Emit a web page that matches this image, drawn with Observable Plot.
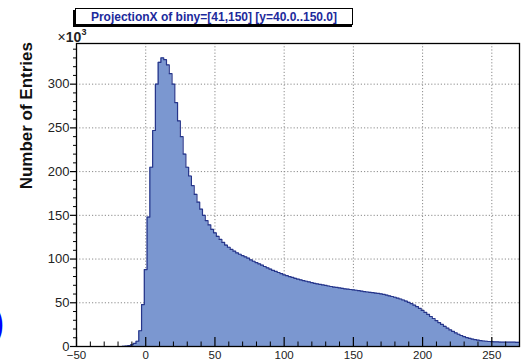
<!DOCTYPE html>
<html>
<head>
<meta charset="utf-8">
<script src="https://cdn.jsdelivr.net/npm/d3@7"></script>
<script src="https://cdn.jsdelivr.net/npm/@observablehq/plot@0.6"></script>
<style>
  html, body { margin: 0; padding: 0; background: #ffffff; }
  #chart svg { display: block; }
</style>
</head>
<body>
<div id="chart"></div>
<script>
// ---- data (counts in units of 10^3 entries, bins of width 2) ----
const titleText = "ProjectionX of biny=[41,150] [y=40.0..150.0]";
const yLabel = "Number of Entries";
const binStart = -51;
const binWidth = 2;
const counts = [
  0,0,0,0,0,0,0,0,0,0,0,0,0,0,0,0,0,
  0.2,0.5,1,2,3.5,6,18,
  48,88,148,205,247,300,325,330,328,322,312,300,279,258,240,220,
  205,195,184,174,165,157,150,144,139,134,130,126,122.5,119,116,113.5,111,109,107,105.5,
  104,102.5,101,99,97.5,96,94.5,93,91.5,90,88.5,87,85.8,84.6,83.3,82,81,80,79,78,
  77,76.2,75.4,74.6,73.8,73,72.3,71.6,71,70.4,69.8,69.2,68.6,68,67.5,67,66.5,66,65.6,65.2,
  64.8,64.3,63.8,63.3,62.8,62.3,61.9,61.5,61.1,60.7,60.2,59.5,58.8,58,57.2,56.3,55.3,54.3,53.2,52,
  50.5,49,47.3,45.5,43.5,41.3,39,36.7,34.3,32,29.7,27.4,25.2,23.1,21,19,17.2,15.5,14,12.6,
  11.3,10.2,9.3,8.5,7.8,7.2,6.7,6.3,6,5.7,5.5,5.3,5.2,5.1,5,5,5,4.9,4.9,4.8,4.8
];
const xDomain = [-50, 270];
const yDomain = [0, 346.5];
const xMajor = [-50, 0, 50, 100, 150, 200, 250];
const xMinor = d3.range(-40, 270, 10).filter(d => d % 50 !== 0);
const yMajor = [0, 50, 100, 150, 200, 250, 300];
const yMinor = d3.range(10, 346, 10).filter(d => d % 50 !== 0);

// ---- build step table ----
const bins = counts.map((v, i) => ({x: binStart + i * binWidth, y: v}));
bins.push({x: binStart + counts.length * binWidth, y: counts[counts.length - 1]});

const W = 528, H = 361;
const mL = 76, mR = 9, mT = 43, mB = 15;
const frameW = W - mL - mR, frameH = H - mT - mB;

const chart = Plot.plot({
  width: W, height: H,
  marginLeft: mL, marginRight: mR, marginTop: mT, marginBottom: mB,
  style: {fontFamily: "'Liberation Sans', Arial, sans-serif", background: "#ffffff", overflow: "visible", color: "#222"},
  x: {domain: xDomain},
  y: {domain: yDomain},
  marks: [
    Plot.gridX(xMajor.filter(d => d > xDomain[0]), {stroke: "#8a8a8a", strokeOpacity: 1, strokeDasharray: "1.2,2"}),
    Plot.gridY(yMajor.filter(d => d > 0), {stroke: "#8a8a8a", strokeOpacity: 1, strokeDasharray: "1.2,2"}),
    Plot.areaY(bins, {x: "x", y: "y", curve: "step-after", fill: "#7b97d0", clip: true}),
    Plot.lineY(bins, {x: "x", y: "y", curve: "step-after", stroke: "#26358a", strokeWidth: 1.2, clip: true}),
    Plot.frame({stroke: "#000", strokeWidth: 1.3}),
    Plot.tickX(xMajor, {x: d => d, insetTop: frameH - 9, stroke: "#000", strokeWidth: 1.2}),
    Plot.tickX(xMinor, {x: d => d, insetTop: frameH - 4.5, stroke: "#000", strokeWidth: 1}),
    Plot.tickY(yMajor, {y: d => d, insetLeft: -6, insetRight: frameW, stroke: "#000", strokeWidth: 1.2}),
    Plot.tickY(yMinor, {y: d => d, insetLeft: -3, insetRight: frameW, stroke: "#000", strokeWidth: 1}),
    Plot.axisX({ticks: xMajor, tickSize: 0, tickPadding: 4, label: null, fontSize: 11.5, fill: "#222"}),
    Plot.axisY({ticks: yMajor, tickSize: 0, tickPadding: 7, label: null, fontSize: 13, fill: "#222"})
  ]
});

document.getElementById("chart").appendChild(chart);

// ---- annotations: title box, exponent, axis title, cropped paren ----
const svg = d3.select(chart);
const g = svg.append("g").attr("font-family", "'Liberation Sans', Arial, sans-serif");
g.append("rect").attr("x", 73).attr("y", 10).attr("width", 279).attr("height", 17).attr("fill", "#000");
g.append("rect").attr("x", 75.5).attr("y", 8.5).attr("width", 277).attr("height", 16).attr("fill", "#fff").attr("stroke", "#000").attr("stroke-width", 1);
g.append("text").attr("x", 214).attr("y", 21).attr("text-anchor", "middle")
  .attr("font-size", 12).attr("font-weight", "bold").attr("fill", "#1c2a9c").text(titleText);

const ex = g.append("text").attr("x", 72).attr("y", 42).attr("font-size", 14).attr("fill", "#222");
ex.append("tspan").text("×");
ex.append("tspan").attr("font-weight", "bold").text("10");
ex.append("tspan").attr("font-size", 9).attr("font-weight", "bold").attr("dy", -7).text("3");

g.append("text").attr("transform", "translate(32,42) rotate(-90)").attr("text-anchor", "end")
  .attr("font-size", 17).attr("font-weight", "bold").attr("fill", "#111").text(yLabel);

g.append("text").attr("x", -2).attr("y", 335).attr("font-size", 36).attr("font-weight", "bold")
  .attr("fill", "#0000ff").text(")");
</script>
</body>
</html>
